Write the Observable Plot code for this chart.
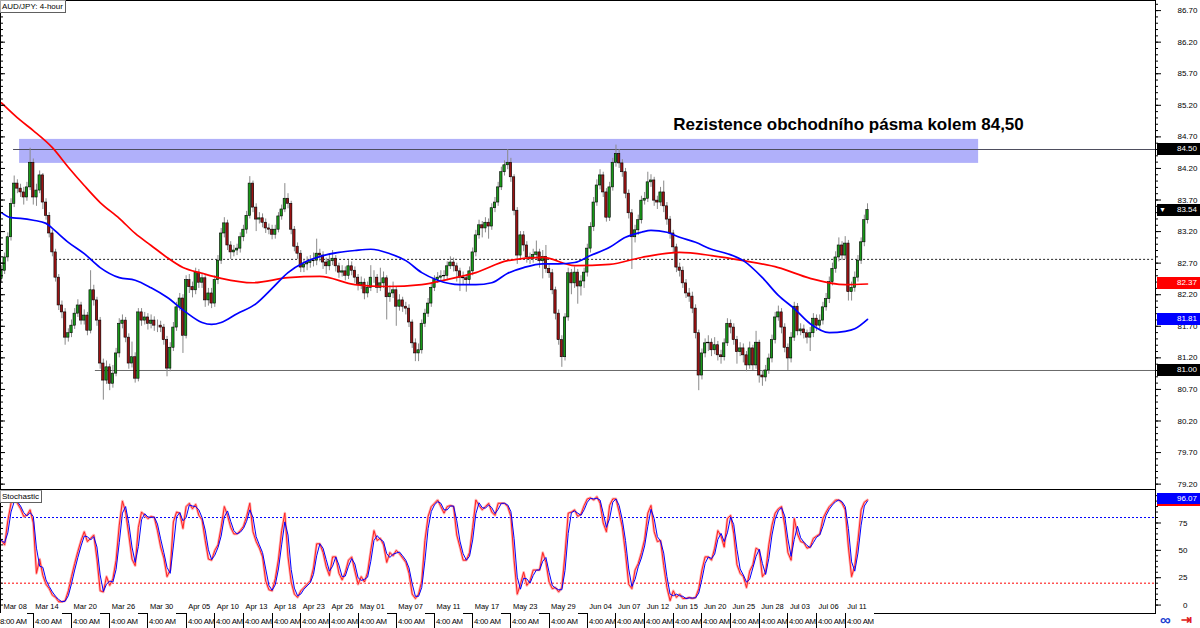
<!DOCTYPE html>
<html><head><meta charset="utf-8">
<script src="https://cdn.jsdelivr.net/npm/d3@7"></script>
<script src="https://cdn.jsdelivr.net/npm/@observablehq/plot@0.6"></script>
<style>
html,body{margin:0;padding:0;background:#fff;}
#wrap{position:relative;width:1200px;height:628px;overflow:hidden;font-family:"Liberation Sans",Arial,sans-serif;background:#fff;}
#main{position:absolute;left:0;top:0;}
#stoch{position:absolute;left:0;top:489px;}
.lbl{position:absolute;background:#fff;border:1px solid #a8a8a8;border-right-color:#606060;border-bottom-color:#606060;font-size:8px;line-height:11px;height:11px;padding:0 2px 0 1px;color:#000;white-space:nowrap;}
.tag{position:absolute;left:1157px;width:43px;height:12px;line-height:12px;font-size:8px;color:#fff;text-align:right;padding-right:3px;box-sizing:border-box;}
.tm{position:absolute;top:613px;height:15px;line-height:17px;font-size:7.8px;letter-spacing:-0.25px;color:#000;background:#fff;padding-left:1px;white-space:nowrap;box-sizing:border-box;}
.icon{position:absolute;line-height:14px;font-weight:bold;}
</style></head>
<body><div id="wrap"><div id="main"></div><div id="stoch"></div></div>
<script>
// ---------- DATA (AUD/JPY 4-hour, one candle per 8h slot) ----------
const firstOpen = 82.45;
const close = [
82.58,82.79,83.11,83.64,83.96,83.88,83.82,83.74,83.90,84.29,
83.74,83.85,84.09,83.66,83.45,83.17,82.87,82.47,82.03,81.92,
81.52,81.59,81.71,81.90,82.03,81.79,81.87,81.63,82.27,82.11,
81.79,81.11,80.84,81.05,80.79,80.95,81.27,81.74,81.79,81.52,
81.11,81.21,80.87,81.92,81.79,81.84,81.74,81.79,81.71,81.71,
81.68,81.48,81.03,81.36,81.68,82.00,82.14,81.55,82.43,82.32,
82.27,82.55,82.39,82.46,82.11,82.22,82.06,82.43,82.74,83.17,
83.33,82.98,82.87,82.90,82.93,83.11,83.23,83.45,83.96,83.58,
83.39,83.41,83.34,83.25,83.23,83.15,83.23,83.44,83.55,83.72,
83.64,83.23,82.96,82.85,82.63,82.68,82.70,82.73,82.74,82.85,
82.82,82.71,82.65,82.73,82.77,82.65,82.55,82.57,82.50,82.65,
82.58,82.47,82.35,82.39,82.22,82.31,82.47,82.47,82.31,82.38,
82.46,82.16,82.22,82.27,82.01,82.11,82.01,81.98,81.76,81.43,
81.27,81.32,81.74,81.90,82.06,82.31,82.43,82.47,82.49,82.50,
82.65,82.71,82.65,82.57,82.47,82.46,82.43,82.57,82.87,83.14,
83.30,83.25,83.34,83.28,83.57,83.66,83.90,84.14,84.25,84.29,
84.06,83.53,82.82,83.14,82.98,82.79,82.77,82.83,82.87,82.73,
82.80,82.61,82.54,82.27,81.90,81.48,81.21,81.84,82.54,82.38,
82.55,82.33,82.41,82.55,82.93,83.27,83.66,83.93,84.09,83.82,
83.42,83.90,84.29,84.43,84.28,84.14,83.80,83.49,83.11,83.22,
83.38,83.69,83.72,83.98,84.01,83.69,83.66,83.82,83.60,83.39,
83.17,82.95,82.63,82.58,82.38,82.22,82.17,81.98,81.59,80.92,
81.27,81.43,81.44,81.32,81.40,81.24,81.21,81.43,81.74,81.68,
81.48,81.29,81.35,81.24,81.08,81.35,81.08,81.44,80.92,80.89,
81.00,81.19,81.48,81.84,81.92,81.68,81.36,81.19,81.52,82.01,
81.62,81.65,81.59,81.52,81.59,81.82,81.71,81.79,82.00,82.13,
82.40,82.61,82.79,82.98,82.82,83.01,82.24,82.31,82.47,82.74,
83.03,83.38,83.54];
const high = [
82.66,82.86,83.18,83.72,84.08,84.02,83.95,83.90,83.98,84.52,
84.35,83.95,84.16,84.12,83.72,83.50,83.22,82.92,82.52,82.10,
81.98,81.66,81.80,81.98,82.12,82.08,81.96,81.92,82.58,82.35,
82.16,81.84,81.18,81.15,81.10,81.08,81.35,81.82,81.88,81.84,
81.58,81.45,81.28,81.98,81.98,81.92,81.90,81.88,81.85,81.80,
81.78,81.73,81.54,81.44,81.76,82.08,82.22,82.20,82.50,82.52,
82.40,82.62,82.60,82.54,82.50,82.30,82.30,82.50,82.82,83.25,
83.42,83.38,83.04,82.98,83.00,83.18,83.30,83.52,84.07,84.00,
83.64,83.50,83.48,83.40,83.32,83.30,83.30,83.50,83.62,83.96,
83.80,83.68,83.28,83.02,82.90,82.76,82.80,82.82,82.86,83.08,
82.92,82.88,82.78,82.82,82.90,82.82,82.70,82.66,82.64,82.74,
82.72,82.64,82.52,82.48,82.45,82.40,82.66,82.58,82.52,82.62,
82.56,82.50,82.34,82.40,82.32,82.20,82.16,82.08,82.04,81.80,
81.50,81.42,81.80,81.97,82.14,82.38,82.50,82.55,82.58,82.58,
82.72,82.80,82.78,82.70,82.62,82.56,82.52,82.64,82.94,83.22,
83.38,83.36,83.42,83.40,83.64,83.74,83.98,84.22,84.32,84.50,
84.36,84.10,83.58,83.20,83.20,83.04,82.86,82.92,83.05,82.92,
82.90,82.98,82.68,82.60,82.32,81.96,81.55,81.90,82.62,82.60,
82.64,82.60,82.50,82.62,83.00,83.34,83.74,84.02,84.18,84.14,
83.88,83.98,84.36,84.57,84.50,84.34,84.20,83.86,83.55,83.30,
83.46,83.76,83.82,84.14,84.10,84.06,83.76,83.90,84.00,83.66,
83.44,83.22,83.00,82.70,82.64,82.44,82.30,82.24,82.04,81.64,
81.34,81.50,81.55,81.50,81.52,81.46,81.32,81.50,81.82,81.80,
81.74,81.54,81.44,81.42,81.30,81.45,81.40,81.62,81.48,81.00,
81.08,81.26,81.56,81.92,82.02,81.98,81.74,81.42,81.60,82.08,
82.06,81.74,81.72,81.64,81.68,81.90,81.88,81.88,82.08,82.22,
82.48,82.70,82.88,83.10,83.04,83.12,83.06,82.40,82.56,82.82,
83.10,83.46,83.64];
const low = [
82.38,82.52,82.72,83.05,83.58,83.80,83.74,83.62,83.68,83.85,
83.62,83.60,83.80,83.55,83.38,83.10,82.80,82.40,81.95,81.82,
81.40,81.45,81.52,81.65,81.84,81.72,81.72,81.55,81.58,82.02,
81.70,81.02,80.53,80.78,80.68,80.72,80.90,81.20,81.66,81.44,
81.02,81.04,80.80,80.82,81.70,81.72,81.64,81.66,81.62,81.60,
81.60,81.40,80.90,80.98,81.30,81.62,81.94,81.27,81.50,82.22,
82.15,82.20,82.30,82.30,82.00,82.02,81.98,82.00,82.36,82.68,
83.10,82.90,82.76,82.80,82.82,82.86,83.04,83.16,83.40,83.50,
83.20,83.32,83.26,83.17,83.15,83.07,83.08,83.18,83.38,83.50,
83.56,83.15,82.88,82.76,82.55,82.55,82.58,82.62,82.64,82.66,
82.72,82.60,82.52,82.58,82.66,82.56,82.46,82.48,82.42,82.44,
82.50,82.38,82.26,82.28,82.12,82.15,82.25,82.38,82.22,82.25,
82.30,81.80,82.08,82.14,81.70,81.94,81.92,81.88,81.68,81.35,
81.14,81.14,81.26,81.68,81.84,82.00,82.25,82.38,82.40,82.40,
82.44,82.60,82.56,82.40,82.25,82.36,82.24,82.36,82.50,82.80,
83.08,83.10,83.18,83.08,83.22,83.50,83.60,83.85,84.08,84.18,
83.98,83.45,82.68,82.76,82.88,82.70,82.68,82.70,82.76,82.62,
82.45,82.54,82.46,82.20,81.80,81.40,81.05,81.15,81.78,82.20,
82.30,82.05,82.18,82.30,82.48,82.86,83.20,83.60,83.86,83.74,
83.35,83.36,83.84,84.22,84.20,84.06,83.72,83.40,82.60,83.02,
83.14,83.32,83.62,83.66,83.90,83.60,83.55,83.60,83.50,83.30,
83.08,82.86,82.55,82.48,82.30,82.14,82.08,81.90,81.50,80.68,
80.85,81.20,81.30,81.22,81.25,81.15,81.10,81.15,81.38,81.58,
81.40,81.10,81.22,81.12,80.98,81.02,81.00,81.02,80.80,80.75,
80.82,80.94,81.12,81.42,81.78,81.58,81.28,81.00,81.12,81.46,
81.55,81.55,81.50,81.42,81.30,81.52,81.62,81.64,81.72,81.94,
82.06,82.34,82.54,82.72,82.74,82.76,82.10,82.10,82.24,82.40,
82.68,82.96,83.32];

// moving averages (red = slow, blue = fast), read at candle slots
const maRedIdx = [0,6,10,16,21,26,31,37,42,47,52,57,63,69,79,90,100,111,121,132,140,149,159,170,180,191,201,213,223,233,244,254,265,272];
const maRed = [85.24,84.96,84.80,84.53,84.22,83.93,83.66,83.41,83.17,82.98,82.79,82.63,82.54,82.46,82.39,82.47,82.49,82.36,82.33,82.36,82.44,82.55,82.74,82.79,82.66,82.68,82.79,82.87,82.82,82.74,82.63,82.46,82.36,82.37];
const maBlueIdx = [0,3,6,10,14,16,21,26,31,37,42,47,52,58,63,66,69,74,80,85,90,95,101,106,111,116,122,127,132,137,144,149,154,159,164,170,175,180,185,191,196,201,204,209,213,218,223,228,233,239,244,249,254,260,265,268,272];
const maBlue = [83.50,83.42,83.41,83.38,83.33,83.25,83.03,82.85,82.63,82.47,82.43,82.31,82.16,81.92,81.76,81.73,81.76,81.90,82.06,82.30,82.55,82.71,82.82,82.87,82.90,82.92,82.85,82.74,82.55,82.43,82.36,82.36,82.39,82.54,82.63,82.69,82.69,82.71,82.82,82.95,83.11,83.19,83.22,83.19,83.11,83.03,82.92,82.85,82.74,82.47,82.19,81.98,81.74,81.60,81.62,81.66,81.81];

// stochastic main line
const stochK = [
59,55,77,93,96,93,88,81,82,87, 75,29,42,27,19,15,9,7,3,3,
4,13,26,38,49,59,67,58,61,64, 42,13,12,26,18,24,41,73,95,85,
64,42,36,71,85,82,79,81,80,68, 53,43,26,32,76,85,84,70,90,93,
88,92,82,78,59,42,41,50,55,71, 90,82,71,65,65,68,72,81,93,67,
58,52,44,22,14,13,24,42,68,84, 44,21,10,7,13,16,19,22,34,56,
56,48,35,27,44,44,29,23,30,41, 44,31,19,26,21,30,50,68,59,61,
55,39,48,45,50,47,43,39,29,10, 6,10,22,59,81,90,93,96,90,84,
90,91,90,64,53,41,41,48,71,96, 91,87,90,93,85,82,93,93,93,90,
81,41,10,19,30,18,22,32,32,32, 48,39,21,15,16,12,16,47,84,85,
87,81,83,91,97,98,96,99,93,75, 67,91,97,97,85,71,47,19,15,32,
38,48,60,84,91,67,58,59,36,16, 4,13,7,10,6,6,7,6,7,15,
32,44,44,41,52,68,63,53,79,82, 65,37,29,26,16,31,37,52,50,26,
30,55,73,84,88,90,73,48,41,79, 65,58,57,52,53,61,63,65,79,85,
90,93,96,96,93,87,53,26,36,59, 87,94,96.07];

// x-axis tick labels (candle slot of each 4:00 AM separator)
const tickIdx   = [0,10,22,34,46,58,67,76,85,94,103,112,124,136,148,160,172,184,193,202,211,220,229,238,247,256,265];
const tickDates = ["Mar 08","Mar 14","Mar 20","Mar 26","Mar 30","Apr 05","Apr 10","Apr 13","Apr 18","Apr 23","Apr 26","May 01","May 07","May 11","May 17","May 23","May 29","Jun 04","Jun 07","Jun 12","Jun 15","Jun 20","Jun 25","Jun 28","Jul 03","Jul 06","Jul 11"];
const tickTimes = ["8:00 AM","4:00 AM","4:00 AM","4:00 AM","4:00 AM","4:00 AM","4:00 AM","4:00 AM","4:00 AM","4:00 AM","4:00 AM","4:00 AM","4:00 AM","4:00 AM","4:00 AM","4:00 AM","4:00 AM","4:00 AM","4:00 AM","4:00 AM","4:00 AM","4:00 AM","4:00 AM","4:00 AM","4:00 AM","4:00 AM","4:00 AM"];
const priceTicks = [86.7,86.2,85.7,85.2,84.7,84.2,83.7,83.2,82.7,82.2,81.7,81.2,80.7,80.2,79.7,79.2];
const stochTicks = [0,25,50,75];

// annotations
const zone = [{x1: 5.7, x2: 306.9, y1: 84.28, y2: 84.66}];
const solidLevels = [
  {y: 84.50, x1: 3.8, stroke: "#4e4e5e"},
  {y: 81.00, x1: 29.5, stroke: "#6a6a6a"}
];
const dottedLevels = [{y: 82.76, x1: 17, stroke: "#222222"}];
const note = [{x: 211, y: 84.90, text: "Rezistence obchodního pásma kolem 84,50"}];
const priceTags = [
  {v: 84.50, bg: "#000000", t: "84.50"},
  {v: 83.54, bg: "#000000", t: "83.54", mark: true},
  {v: 82.37, bg: "#ff0000", t: "82.37"},
  {v: 81.81, bg: "#0000ff", t: "81.81"},
  {v: 81.00, bg: "#000000", t: "81.00"}
];
const stochTag = {v: 96.07, bg: "#0000ff", under: "#ff0000", t: "96.07"};

// ---------- BUILD ----------
const xDomain = [-0.3, 362.45];
const candles = close.map((c, i) => ({i, o: i ? close[i - 1] : firstOpen, c, h: high[i], l: low[i]}));
const redMA = maRedIdx.map((x, k) => ({x, y: maRed[k]}));
const blueMA = maBlueIdx.map((x, k) => ({x, y: maBlue[k]}));
const stoch = stochK.map((v, i) => ({i, v}));
const dateTicks = tickIdx.map((i, k) => ({i, date: tickDates[k]}));
const minorPrice = d3.range(792, 869).map(d => d / 10);
const minorStoch = d3.range(0, 101, 5);
const xEnd = xDomain[1];
const frameW = 1155;

const font = "'Liberation Sans', Arial, sans-serif";

const main = Plot.plot({
  width: 1200, height: 489,
  marginLeft: 0, marginRight: 45, marginTop: 0, marginBottom: 0,
  x: {domain: xDomain, axis: null},
  y: {domain: [79.115, 86.86]},
  style: {fontFamily: font, fontSize: "8px", background: "transparent", overflow: "visible"},
  marks: [
    Plot.rect(zone, {x1: "x1", x2: "x2", y1: "y1", y2: "y2", fill: "#b0b0fa"}),
    Plot.ruleY(solidLevels, {y: "y", x1: "x1", x2: () => xEnd, stroke: "stroke", strokeWidth: 1}),
    Plot.ruleY(dottedLevels, {y: "y", x1: "x1", x2: () => xEnd, stroke: "stroke", strokeWidth: 1, strokeDasharray: "2,2"}),
    Plot.ruleX(candles, {x: "i", y1: "l", y2: "h", stroke: "#8a8a8a", strokeWidth: 1}),
    Plot.rect(candles, {x1: d => d.i - 0.37, x2: d => d.i + 0.37, y1: "o", y2: "c",
      fill: d => d.c >= d.o ? "#189818" : "#9a1212", stroke: "#000", strokeWidth: 0.6}),
    Plot.line(redMA, {x: "x", y: "y", stroke: "#ff0000", strokeWidth: 1.7, curve: "monotone-x"}),
    Plot.line(blueMA, {x: "x", y: "y", stroke: "#0000ff", strokeWidth: 1.7, curve: "monotone-x"}),
    Plot.text(note, {x: "x", y: "y", text: "text", textAnchor: "start", fontSize: 17, fontWeight: "bold", fontFamily: font, fill: "#000"}),
    Plot.tickY(minorPrice, {y: d => d, insetLeft: frameW, insetRight: -3, stroke: "#000"}),
    Plot.tickY(minorPrice, {y: d => d, insetRight: frameW - 3, stroke: "#000"}),
    Plot.tickY(priceTicks, {y: d => d, insetRight: frameW - 5, stroke: "#000"}),
    Plot.axisY({anchor: "right", ticks: priceTicks, tickSize: 5, tickPadding: 37, textAnchor: "end", tickFormat: d => d.toFixed(2), fill: "#000", stroke: "#000"}),
    Plot.frame({stroke: "#000"})
  ]
});
document.getElementById("main").appendChild(main);

const st = Plot.plot({
  width: 1200, height: 139,
  marginLeft: 0, marginRight: 45, marginTop: 0, marginBottom: 15,
  x: {domain: xDomain, axis: null},
  y: {domain: [-7.7, 105.6]},
  style: {fontFamily: font, fontSize: "8px", background: "transparent", overflow: "visible"},
  marks: [
    Plot.ruleY([80], {stroke: "#0000ff", strokeDasharray: "2,2", strokeWidth: 1}),
    Plot.ruleY([20], {stroke: "#ff0000", strokeDasharray: "2,2", strokeWidth: 1}),
    Plot.line(stoch, {x: "i", y: "v", stroke: "#ffb0b0", strokeWidth: 2.6}),
    Plot.line(stoch, {x: "i", y: "v", stroke: "#ff2020", strokeWidth: 1}),
    Plot.line(stoch, Plot.windowY({k: 2, anchor: "end"}, {x: "i", y: "v", stroke: "#0000ff", strokeWidth: 1})),
    Plot.text(dateTicks, {x: "i", text: "date", frameAnchor: "bottom", dy: -5, dx: 2, textAnchor: "start", fontSize: 7.5, fill: "#000"}),
    Plot.tickY(minorStoch, {y: d => d, insetLeft: frameW, insetRight: -3, stroke: "#000"}),
    Plot.tickY(minorStoch, {y: d => d, insetRight: frameW - 3, stroke: "#000"}),
    Plot.axisY({anchor: "right", ticks: stochTicks, tickSize: 5, tickPadding: 27, textAnchor: "end", fill: "#000", stroke: "#000"}),
    Plot.frame({stroke: "#000"})
  ]
});
document.getElementById("stoch").appendChild(st);

// ---------- overlays (positioned through the plots' own scales) ----------
const wrap = document.getElementById("wrap");
function addDiv(cls, css, html) {
  const d = document.createElement("div");
  d.className = cls; d.style.cssText = css; d.innerHTML = html; wrap.appendChild(d); return d;
}
const yMain = main.scale("y"), yStoch = st.scale("y"), xSt = st.scale("x");
priceTags.forEach(t => {
  const y = yMain.apply(t.v);
  addDiv("tag", `top:${y - 6}px;background:${t.bg};`, (t.mark ? '<span style="position:absolute;left:2px;top:0;font-size:7px">&#9660;</span>' : "") + t.t);
});
{
  const y = yStoch.apply(stochTag.v) + 489;
  addDiv("tag", `top:${y - 6}px;background:${stochTag.bg};border-bottom:2px solid ${stochTag.under};height:13px;line-height:12px;`, stochTag.t);
}
// time row: separator on the left of each label
tickIdx.forEach((i, k) => {
  const x = Math.round(xSt.apply(i));
  const first = k === 0;
  addDiv("tm", `left:${first ? 0 : x}px;${first ? "padding-left:0;" : "border-left:1px solid #000;"}`, tickTimes[k]);
});
addDiv("lbl", "left:0;top:0;", "AUD/JPY: 4-hour");
addDiv("lbl", "left:0;top:490px;", "Stochastic");
addDiv("icon", "left:1160px;top:613px;color:#2040d0;font-size:15px;", "&#8734;");
addDiv("icon", "left:1181px;top:613px;color:#e02020;font-size:13px;", "&#8677;");
</script>
</body></html>
